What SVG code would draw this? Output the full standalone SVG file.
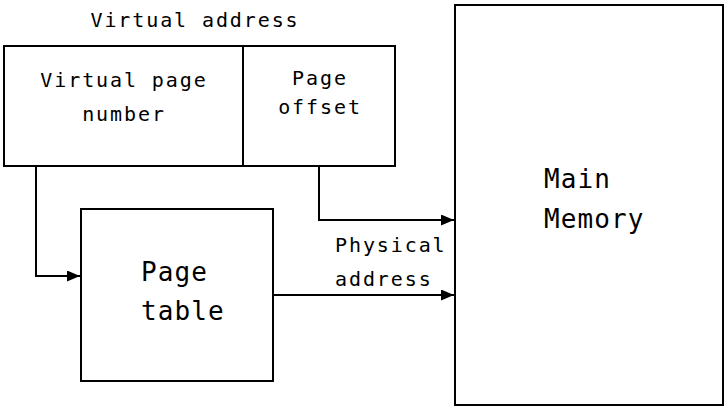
<svg xmlns="http://www.w3.org/2000/svg" width="728" height="413" viewBox="0 0 728 413">
<style>
.box{fill:#fff;stroke:#000;stroke-width:2}
.ln{fill:none;stroke:#000;stroke-width:2}
.s{font-family:"DejaVu Sans Mono","Liberation Mono",monospace;font-size:20px;letter-spacing:1.9px;fill:#000}
.l{font-family:"DejaVu Sans Mono","Liberation Mono",monospace;font-size:26px;letter-spacing:1.1px;fill:#000}
</style>
<defs>
<marker id="ah" viewBox="0 0 13 11" refX="13" refY="5.5" markerWidth="13" markerHeight="11" markerUnits="userSpaceOnUse" orient="auto">
<path d="M0,0 L13,5.5 L0,11 Z" fill="#000"/>
</marker>
</defs>
<g id="virtual-address">
<text class="s" x="195" y="27" text-anchor="middle">Virtual address</text>
<rect class="box" x="4" y="46" width="391" height="120"/>
<line class="ln" x1="243" y1="46" x2="243" y2="166"/>
<text class="s" x="124" y="87" text-anchor="middle">Virtual page</text>
<text class="s" x="124" y="121" text-anchor="middle">number</text>
<text class="s" x="320" y="85" text-anchor="middle">Page</text>
<text class="s" x="320" y="114" text-anchor="middle">offset</text>
</g>
<g id="page-table">
<rect class="box" x="81" y="209" width="192" height="172"/>
<text class="l" x="141" y="281">Page</text>
<text class="l" x="141" y="320">table</text>
</g>
<g id="main-memory">
<rect class="box" x="455" y="5" width="268" height="400"/>
<text class="l" x="544" y="188">Main</text>
<text class="l" x="544" y="228">Memory</text>
</g>
<g id="connectors">
<polyline class="ln" points="36,166 36,276 80,276" marker-end="url(#ah)"/>
<polyline class="ln" points="319,166 319,220 454,220" marker-end="url(#ah)"/>
<line class="ln" x1="273" y1="295" x2="454" y2="295" marker-end="url(#ah)"/>
<text class="s" x="335" y="252">Physical</text>
<text class="s" x="335" y="286">address</text>
</g>
</svg>
